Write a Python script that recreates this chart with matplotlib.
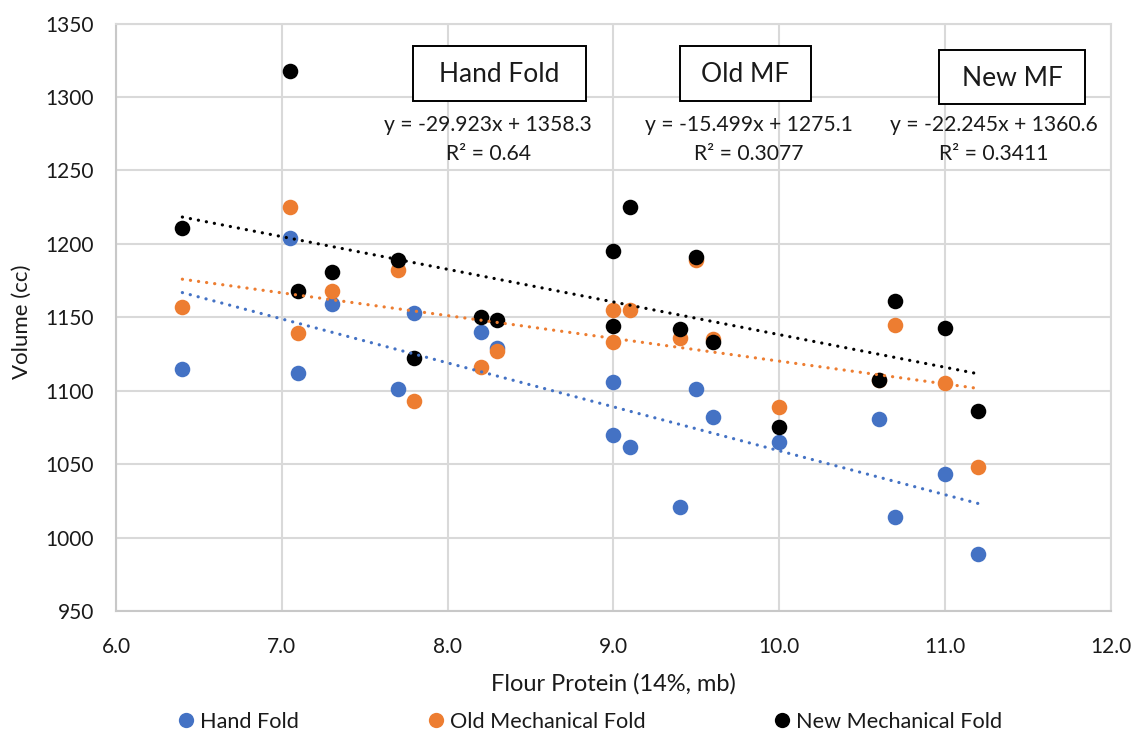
import matplotlib
matplotlib.use("Agg")
import matplotlib.pyplot as plt
from matplotlib.patches import Rectangle
from matplotlib.lines import Line2D
import numpy as np

plt.rcParams['font.family'] = ['Lato', 'DejaVu Sans']

# ---------------- data ----------------
hand_x = [6.4, 7.05, 7.1, 7.3, 7.7, 7.8, 8.2, 8.3, 9.0, 9.0, 9.1, 9.4, 9.5, 9.6, 10.0, 10.6, 10.7, 11.0, 11.2]
hand_y = [1115, 1204, 1112, 1159, 1101, 1153, 1140, 1129, 1106, 1070, 1062, 1021, 1101, 1082, 1065, 1081, 1014, 1043, 989]

old_x = [6.4, 7.05, 7.1, 7.3, 7.7, 7.8, 8.2, 8.3, 9.0, 9.0, 9.1, 9.4, 9.5, 9.6, 10.0, 10.6, 10.7, 11.0, 11.2]
old_y = [1157, 1225, 1139, 1168, 1182, 1093, 1116, 1127, 1155, 1133, 1155, 1136, 1189, 1135, 1089, 1107, 1145, 1105, 1048]

new_x = [6.4, 7.05, 7.1, 7.3, 7.7, 7.8, 8.2, 8.3, 9.0, 9.0, 9.1, 9.4, 9.5, 9.6, 10.0, 10.6, 10.7, 11.0, 11.2]
new_y = [1211, 1318, 1168, 1181, 1189, 1122, 1150, 1148, 1195, 1144, 1225, 1142, 1191, 1133, 1075, 1107, 1161, 1143, 1086]

series_names = ["Hand Fold", "Old Mechanical Fold", "New Mechanical Fold"]
series_colors = ["#4472C4", "#ED7D31", "#000000"]

# trendline coefficients (from chart labels)
slopes = [-29.923, -15.499, -22.245]
intercepts = [1358.3, 1275.1, 1360.6]
r2_values = ["0.64", "0.3077", "0.3411"]
box_labels = ["Hand Fold", "Old MF", "New MF"]

x_ticks = [6.0, 7.0, 8.0, 9.0, 10.0, 11.0, 12.0]
y_ticks = [950, 1000, 1050, 1100, 1150, 1200, 1250, 1300, 1350]

# ---------------- figure ----------------
W, H = 1137, 734
fig = plt.figure(figsize=(W / 100, H / 100), dpi=100)
L, R, T, B = 116, 1111, 23.5, 611
ax = fig.add_axes([L / W, (H - B) / H, (R - L) / W, (B - T) / H])

def px2ax(px, py):
    return (px - L) / (R - L), (B - py) / (B - T)

grid_c = "#d9d9d9"
text_c = "#1a1a1a"

xs_all = [hand_x, old_x, new_x]
ys_all = [hand_y, old_y, new_y]
for xs, ys, c, n in zip(xs_all, ys_all, series_colors, series_names):
    ax.plot(xs, ys, linestyle="none", marker="o", markersize=11.2,
            color=c, markeredgewidth=0, label=n, zorder=3)

for xs, m, b, c in zip(xs_all, slopes, intercepts, series_colors):
    xx = np.array([min(xs), max(xs)])
    ax.plot(xx, m * xx + b, color=c, linewidth=2.3,
            linestyle=(0, (0.05, 2.5)), dash_capstyle="round", zorder=4)

ax.set_xlim(6.0, 12.0)
ax.set_ylim(950, 1350)
ax.set_xticks(x_ticks)
ax.set_xticklabels([f"{t:.1f}" for t in x_ticks])
ax.set_yticks(y_ticks)
ax.set_yticklabels([str(t) for t in y_ticks])
ax.grid(True, color=grid_c, linewidth=1.5, zorder=0)
ax.set_axisbelow(True)
for s in ax.spines.values():
    s.set_color(grid_c)
    s.set_linewidth(1.5)
ax.spines["left"].set_color("#c8c8c8")
ax.spines["bottom"].set_color("#c8c8c8")
ax.tick_params(axis="both", length=0, labelsize=15, colors=text_c)
ax.tick_params(axis="x", pad=19)
ax.tick_params(axis="y", pad=16)

# axis titles
xlx, xly = px2ax(613, 684)
ax.text(xlx, xly, "Flour Protein (14%, mb)", transform=ax.transAxes,
        ha="center", va="center", fontsize=17, color=text_c)
ylx, yly = px2ax(22, 322)
ax.text(ylx, yly, "Volume (cc)", transform=ax.transAxes, rotation=90,
        ha="center", va="center", fontsize=16, color=text_c)

# title boxes
boxes = [(413, 46, 586, 101), (680, 46, 811, 101), (939, 50, 1085, 104)]
for (x0, y0, x1, y1), lab in zip(boxes, box_labels):
    ax0, ay1 = px2ax(x0, y0)
    ax1, ay0 = px2ax(x1, y1)
    ax.add_patch(Rectangle((ax0, ay0), ax1 - ax0, ay1 - ay0, transform=ax.transAxes,
                           facecolor="white", edgecolor="#000000", linewidth=1.4,
                           zorder=5, clip_on=False))
    cx, cy = px2ax((x0 + x1) / 2, (y0 + y1) / 2 + 1)
    ax.text(cx, cy, lab, transform=ax.transAxes, ha="center", va="center",
            fontsize=19, color=text_c, zorder=6)

# equation labels
eq_centers = [488, 749, 994]
for cxp, m, b, r2 in zip(eq_centers, slopes, intercepts, r2_values):
    x1, y1 = px2ax(cxp, 125)
    ax.text(x1, y1, f"y = {m}x + {b}", transform=ax.transAxes, ha="center",
            va="center", fontsize=15.2, color=text_c, zorder=6)
    x2, y2 = px2ax(cxp, 154)
    ax.text(x2, y2, f"R² = {r2}", transform=ax.transAxes, ha="center",
            va="center", fontsize=15.2, color=text_c, zorder=6)

handles = [Line2D([], [], linestyle="none", marker="o", markersize=11,
                  color=c, markeredgewidth=0) for c in series_colors]
fig.legend(handles, series_names, loc="center", ncol=3,
           bbox_to_anchor=(591 / W, (H - 722) / H), frameon=False,
           fontsize=15.6, handlelength=0.6, handletextpad=0.35,
           columnspacing=6.0, labelcolor=text_c, borderpad=0)

fig.savefig("out.png", dpi=100)
